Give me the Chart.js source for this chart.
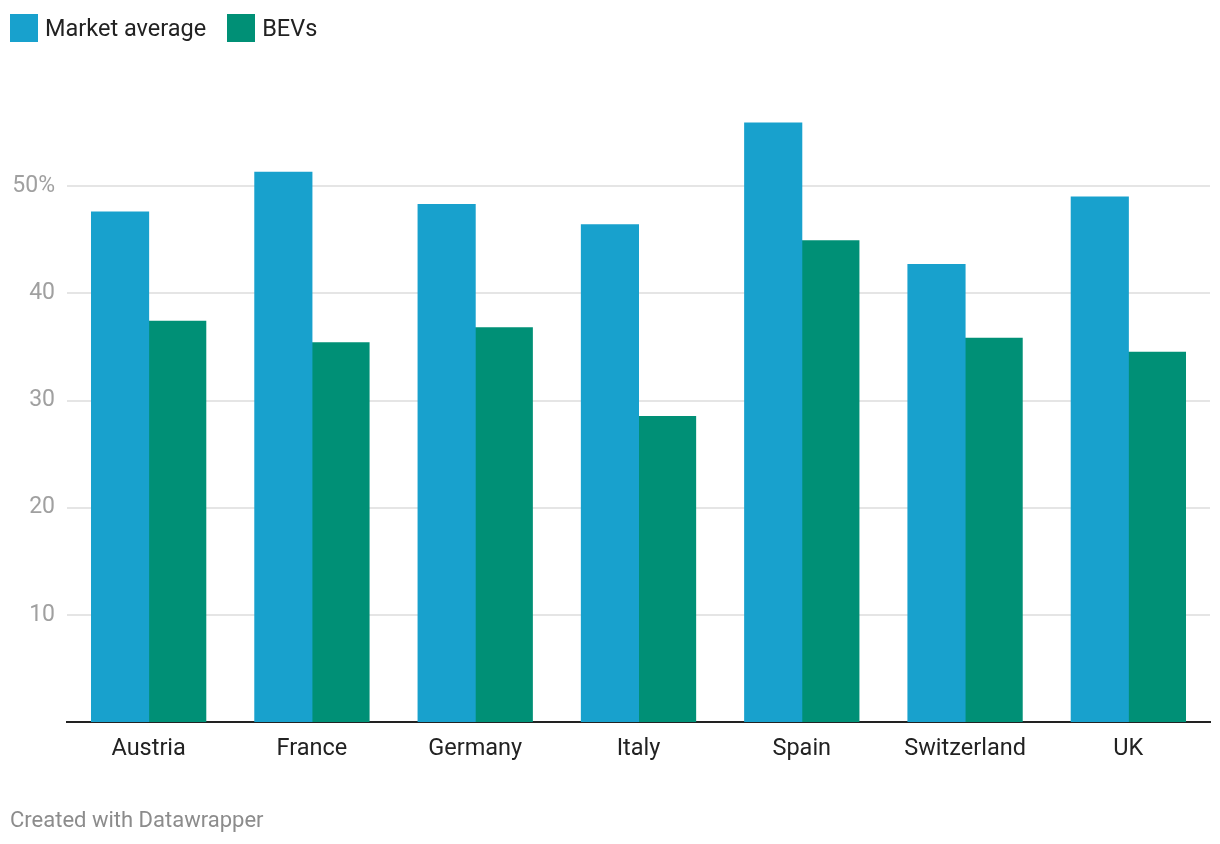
<!DOCTYPE html>
<html>
<head>
<meta charset="utf-8">
<script src="https://cdn.jsdelivr.net/npm/chart.js@4/dist/chart.umd.min.js"></script>
<style>
  html, body { margin: 0; padding: 0; background: #fff; }
  body { width: 1220px; height: 844px; position: relative; overflow: hidden; font-family: Roboto, sans-serif; }
  #legend { position: absolute; left: 10px; top: 14px; display: flex; align-items: center; font-size: 23.5px; color: #222; }
  .item { display: flex; align-items: center; margin-right: 21px; }
  .swatch { width: 28px; height: 28px; margin-right: 7px; }
  #wrap { position: absolute; left: 0; top: 0; width: 1220px; height: 844px; }
  #footer { position: absolute; left: 10px; top: 807px; font-size: 22px; color: #8c8c8c; }
</style>
</head>
<body>
<div id="wrap"><canvas id="chart"></canvas></div>
<div id="legend"></div>
<div id="footer">Created with Datawrapper</div>
<script>
// Countries and shares (%)
const countries = ['Austria', 'France', 'Germany', 'Italy', 'Spain', 'Switzerland', 'UK']
const marketAverage = [47.6, 51.3, 48.3, 46.4, 55.9, 42.7, 49.0]
const bevs = [37.4, 35.4, 36.8, 28.5, 44.9, 35.8, 34.5]
const yTicks = [10, 20, 30, 40, 50]

const colors = {
  market: '#18a1cd',
  bev: '#009076'
}

const series = [
  { label: 'Market average', data: marketAverage, color: colors.market },
  { label: 'BEVs', data: bevs, color: colors.bev }
]

// HTML legend, Datawrapper style
const legend = document.getElementById('legend')
series.forEach(s => {
  const item = document.createElement('div')
  item.className = 'item'
  item.innerHTML = '<div class="swatch" style="background:' + s.color + '"></div><span>' + s.label + '</span>'
  legend.appendChild(item)
})

const ctx = document.getElementById('chart')

new Chart(ctx, {
  type: 'bar',
  data: {
    labels: countries,
    datasets: series.map(s => ({
      label: s.label,
      data: s.data,
      backgroundColor: s.color,
      borderWidth: 0,
      inflateAmount: 0.5,
      barPercentage: 1.0,
      categoryPercentage: 0.7
    }))
  },
  options: {
    responsive: true,
    maintainAspectRatio: false,
    animation: false,
    layout: {
      padding: { top: 79, right: 10, left: 0, bottom: 0 }
    },
    plugins: {
      legend: { display: false },
      tooltip: { enabled: false }
    },
    scales: {
      x: {
        grid: { display: false, drawTicks: false },
        border: { display: true, color: '#222', width: 2 },
        ticks: {
          color: '#222',
          padding: 13,
          font: { family: 'Roboto', size: 23.5 }
        },
        afterFit: axis => { axis.height = 122 }
      },
      y: {
        min: 0,
        max: 60,
        afterBuildTicks: axis => {
          axis.ticks = yTicks.map(v => ({ value: v }))
        },
        afterFit: axis => { axis.width = 67 },
        grid: { color: '#e5e5e5', lineWidth: 2, drawTicks: false },
        border: { display: false },
        ticks: {
          color: '#a0a0a0',
          padding: 12,
          font: { family: 'Roboto', size: 23 },
          callback: v => v === 50 ? '50%' : String(v)
        }
      }
    }
  }
})
</script>
</body>
</html>
